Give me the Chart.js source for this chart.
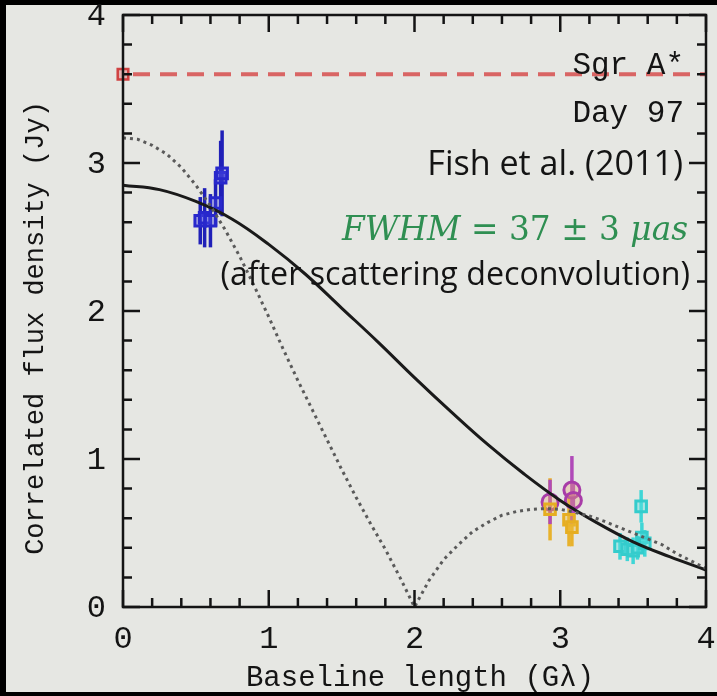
<!DOCTYPE html>
<html>
<head>
<meta charset="utf-8">
<script src="https://cdn.jsdelivr.net/npm/chart.js@4.4.1/dist/chart.umd.min.js"></script>
<style>
  html, body { margin: 0; padding: 0; background: #000; }
  #wrap { width: 717px; height: 696px; }
</style>
</head>
<body>
<div id="wrap"><canvas id="chart" width="717" height="696"></canvas></div>
<script>
// gaussian fit (solid line)
const gaussX = [0, 0.25, 0.5, 0.75, 1, 1.25, 1.5, 1.75, 2, 2.25, 2.5, 2.75, 3, 3.25, 3.5, 3.75, 4];
const gaussY = [2.85, 2.82, 2.74, 2.62, 2.45, 2.25, 2.02, 1.79, 1.55, 1.32, 1.10, 0.90, 0.72, 0.57, 0.44, 0.34, 0.25];

// ring model (dotted line)
const ringX = [0, 0.1, 0.2, 0.3, 0.4, 0.5, 0.6, 0.7, 0.8, 0.9, 1.0, 1.1, 1.2, 1.3, 1.4, 1.5, 1.6, 1.7, 1.8, 1.9, 2.0,
  2.1, 2.2, 2.3, 2.4, 2.5, 2.6, 2.7, 2.8, 2.9, 3.0, 3.1, 3.2, 3.3, 3.4, 3.5, 3.6, 3.7, 3.8, 3.9, 4.0];
const ringY = [3.17, 3.16, 3.12, 3.06, 2.97, 2.85, 2.71, 2.55, 2.37, 2.17, 1.96, 1.74, 1.53, 1.33, 1.13, 0.93, 0.74, 0.56, 0.39, 0.20, 0.00,
  0.18, 0.32, 0.42, 0.51, 0.57, 0.62, 0.645, 0.66, 0.665, 0.66, 0.64, 0.615, 0.58, 0.54, 0.50, 0.46, 0.42, 0.36, 0.31, 0.26];

// total flux (zero baseline)
const totalFlux = 3.6;
const axisMin = 0;
const axisMax = 4;

// measurements
const blueX = [0.53, 0.56, 0.60, 0.635, 0.67, 0.68];
const blueY = [2.61, 2.63, 2.61, 2.73, 2.90, 2.93];
const blueErr = [0.16, 0.20, 0.18, 0.16, 0.25, 0.29];

const orangeX = [2.93, 3.06, 3.08];
const orangeY = [0.66, 0.59, 0.54];
const orangeErr = [0.21, 0.18, 0.13];

const purpleX = [2.93, 3.08, 3.09];
const purpleY = [0.71, 0.79, 0.72];
const purpleErr = [0.15, 0.23, 0.12];

const cyanX = [3.41, 3.46, 3.50, 3.53, 3.56, 3.58, 3.555];
const cyanY = [0.41, 0.39, 0.38, 0.40, 0.47, 0.43, 0.68];
const cyanErr = [0.09, 0.08, 0.09, 0.08, 0.10, 0.09, 0.11];

const xTickLabels = ['0', '1', '2', '3', '4'];
const yTickLabels = ['0', '1', '2', '3', '4'];

function pts(xs, ys) {
  return xs.map((x, i) => ({ x: x, y: ys[i] }));
}

const axisFont = '"Liberation Mono", "DejaVu Sans Mono", monospace';
const ink = '#141414';

// page background + black border of the photo
const background = {
  id: 'background',
  beforeDraw(chart) {
    const ctx = chart.ctx;
    ctx.save();
    ctx.fillStyle = '#e6e7e3';
    ctx.fillRect(0, 0, chart.width, chart.height);
    ctx.fillStyle = '#000';
    ctx.fillRect(0, 0, 6, chart.height);
    ctx.fillRect(0, 0, chart.width, 5);
    ctx.fillRect(0, chart.height - 4, chart.width, 4);
    ctx.restore();
  }
};

// vertical error bars
const errorBars = {
  id: 'errorBars',
  beforeDatasetsDraw(chart) {
    const ctx = chart.ctx;
    const xs = chart.scales.x, ys = chart.scales.y;
    ctx.save();
    chart.data.datasets.forEach(ds => {
      if (!ds.errors) return;
      ctx.strokeStyle = ds.errorColor;
      ctx.lineWidth = 3.5;
      ds.data.forEach((p, i) => {
        const px = xs.getPixelForValue(p.x);
        ctx.beginPath();
        ctx.moveTo(px, ys.getPixelForValue(p.y - ds.errors[i]));
        ctx.lineTo(px, ys.getPixelForValue(p.y + ds.errors[i]));
        ctx.stroke();
      });
    });
    ctx.restore();
  }
};

// boxed frame with inward ticks on all four sides, labels and titles
const frame = {
  id: 'frame',
  afterDatasetsDraw(chart) {
    const ctx = chart.ctx;
    const a = chart.chartArea;
    const xs = chart.scales.x, ys = chart.scales.y;
    ctx.save();
    ctx.strokeStyle = ink;
    ctx.lineWidth = 2.5;
    ctx.strokeRect(a.left, a.top, a.right - a.left, a.bottom - a.top);

    for (let k = 0; k <= 20; k++) {
      const v = k * 0.2;
      const len = k % 5 === 0 ? 17 : 9;
      const px = xs.getPixelForValue(v);
      const py = ys.getPixelForValue(v);
      ctx.beginPath();
      ctx.moveTo(px, a.bottom); ctx.lineTo(px, a.bottom - len);
      ctx.moveTo(px, a.top); ctx.lineTo(px, a.top + len);
      ctx.moveTo(a.left, py); ctx.lineTo(a.left + len, py);
      ctx.moveTo(a.right, py); ctx.lineTo(a.right - len, py);
      ctx.stroke();
    }

    ctx.fillStyle = ink;
    ctx.font = '32px ' + axisFont;
    ctx.textAlign = 'center';
    ctx.textBaseline = 'middle';
    xTickLabels.forEach((t, i) => {
      ctx.fillText(t, xs.getPixelForValue(i), 640);
    });
    ctx.textAlign = 'right';
    yTickLabels.forEach((t, i) => {
      ctx.fillText(t, 106, ys.getPixelForValue(i) + 2);
    });

    ctx.font = '29px ' + axisFont;
    ctx.textAlign = 'center';
    ctx.fillText('Baseline length (G\u03bb)', 420, 678);
    ctx.save();
    ctx.translate(36, 328);
    ctx.rotate(-Math.PI / 2);
    ctx.font = '27px ' + axisFont;
    ctx.fillText('Correlated flux density (Jy)', 0, 0);
    ctx.restore();
    ctx.restore();
  }
};

// text sized so it spans a given width, right aligned
function fitText(ctx, text, family, right, baseline, width) {
  ctx.font = '30px ' + family;
  const size = 30 * width / ctx.measureText(text).width;
  ctx.font = size.toFixed(1) + 'px ' + family;
  ctx.textAlign = 'right';
  ctx.fillText(text, right, baseline);
}

const notes = {
  id: 'notes',
  afterDraw(chart) {
    const ctx = chart.ctx;
    ctx.save();
    ctx.fillStyle = ink;
    ctx.textBaseline = 'alphabetic';
    ctx.textAlign = 'right';
    ctx.font = '31px ' + axisFont;
    ctx.fillText('Sgr A*', 684, 74);
    ctx.fillText('Day 97', 684, 122);

    const sans = '"Open Sans", "DejaVu Sans", sans-serif';
    fitText(ctx, 'Fish et al. (2011)', sans, 683, 175, 256);
    fitText(ctx, '(after scattering deconvolution)', sans, 690, 285, 470);

    // FWHM = 37 ± 3 μas, italic symbols and upright numbers
    const serif = '"DejaVu Serif", "Liberation Serif", serif';
    const parts = [['FWHM', 'italic '], [' = 37 \u00b1 3 ', ''], ['\u03bcas', 'italic ']];
    let base = 30, total = 0;
    parts.forEach(p => { ctx.font = p[1] + base + 'px ' + serif; total += ctx.measureText(p[0]).width; });
    const size = base * 346 / total;
    let x = 688 - 346;
    ctx.fillStyle = '#2f8f52';
    ctx.textAlign = 'left';
    parts.forEach(p => {
      ctx.font = p[1] + size.toFixed(1) + 'px ' + serif;
      ctx.fillText(p[0], x, 240);
      x += ctx.measureText(p[0]).width;
    });
    ctx.restore();
  }
};

new Chart(document.getElementById('chart'), {
  type: 'scatter',
  data: {
    datasets: [
      {
        type: 'line',
        data: [{ x: axisMin, y: totalFlux }, { x: axisMax, y: totalFlux }],
        borderColor: 'rgba(214, 78, 78, 0.85)',
        borderWidth: 4,
        borderDash: [17, 10],
        borderDashOffset: 17,
        pointRadius: 0
      },
      {
        type: 'line',
        data: pts(ringX, ringY),
        borderColor: '#5a5a5a',
        borderWidth: 3,
        borderDash: [3, 4],
        pointRadius: 0,
        tension: 0
      },
      {
        type: 'line',
        data: pts(gaussX, gaussY),
        borderColor: '#1a1a1a',
        borderWidth: 3,
        pointRadius: 0,
        tension: 0.4
      },
      {
        data: pts([axisMin], [totalFlux]),
        pointStyle: 'rect',
        pointRadius: 7.5,
        borderWidth: 2.5,
        borderColor: 'rgba(205, 50, 50, 0.9)',
        backgroundColor: 'rgba(225, 100, 100, 0.4)'
      },
      {
        data: pts(blueX, blueY),
        errors: blueErr,
        errorColor: '#2020b8',
        pointStyle: 'rect',
        pointRadius: 7.5,
        borderWidth: 3,
        borderColor: '#2828cc',
        backgroundColor: 'rgba(80, 80, 230, 0.35)'
      },
      {
        data: pts(orangeX, orangeY),
        errors: orangeErr,
        errorColor: '#e8b22c',
        pointStyle: 'rect',
        pointRadius: 7.5,
        borderWidth: 3,
        borderColor: '#e6ae22',
        backgroundColor: 'rgba(240, 190, 60, 0.4)'
      },
      {
        data: pts(purpleX, purpleY),
        errors: purpleErr,
        errorColor: '#b04ab8',
        pointStyle: 'circle',
        pointRadius: 8,
        borderWidth: 3,
        borderColor: '#a83ca8',
        backgroundColor: 'rgba(230, 170, 120, 0.35)'
      },
      {
        data: pts(cyanX, cyanY),
        errors: cyanErr,
        errorColor: '#3fd6d6',
        pointStyle: 'rect',
        pointRadius: 7.5,
        borderWidth: 3,
        borderColor: '#34cccc',
        backgroundColor: 'rgba(90, 225, 225, 0.4)'
      }
    ]
  },
  options: {
    responsive: false,
    animation: false,
    devicePixelRatio: 1,
    clip: false,
    layout: { padding: { left: 123, right: 4, top: 15, bottom: 89 } },
    plugins: { legend: { display: false }, tooltip: { enabled: false } },
    scales: {
      x: { type: 'linear', min: axisMin, max: axisMax, display: false },
      y: { type: 'linear', min: axisMin, max: axisMax, display: false }
    }
  },
  plugins: [background, errorBars, frame, notes]
});
</script>
</body>
</html>
